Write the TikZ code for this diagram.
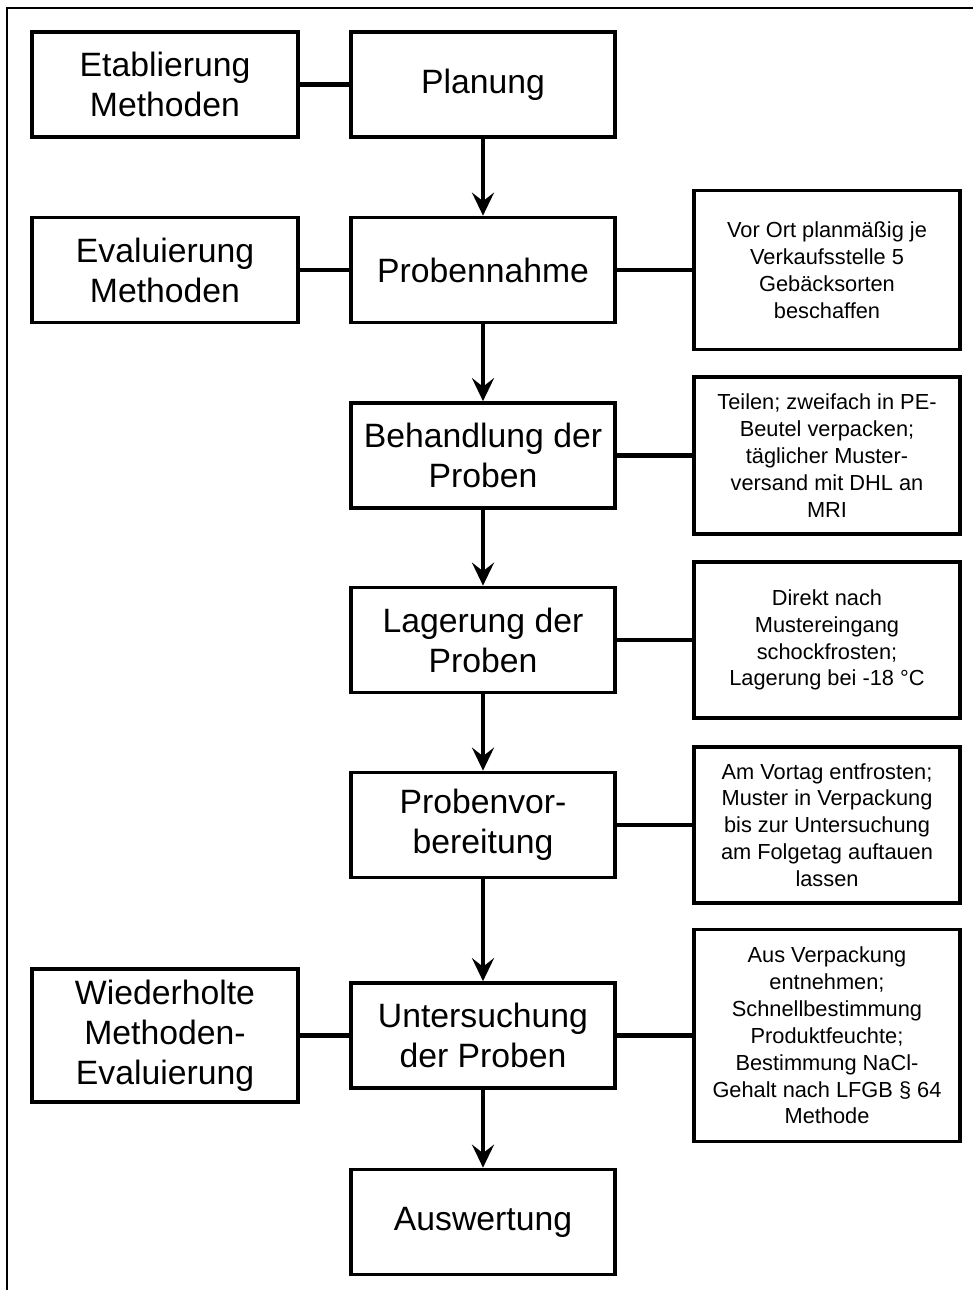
\documentclass[tikz,border=0pt]{standalone}
\usepackage{fontspec}
\setmainfont{Liberation Sans}
\usetikzlibrary{arrows.meta, positioning}

\begin{document}
\begin{tikzpicture}[
    % ---------------------------------------------------------
    % STILE
    % ---------------------------------------------------------
    schritt/.style={
        rectangle,
        draw=black,
        line width=2.1pt,
        minimum width=5.28cm,
        minimum height=2.1cm,
        inner sep=2pt,
        align=center,
        font=\fontsize{19.2}{22.8}\selectfont
    },
    methode/.style={
        schritt,
        minimum width=5.32cm
    },
    notiz/.style={
        rectangle,
        draw=black,
        line width=2.1pt,
        minimum width=5.32cm,
        minimum height=#1,
        inner sep=2pt,
        align=center,
        font=\fontsize{12.4}{15.3}\selectfont
    },
    pfeil/.style={
        draw=black,
        line width=2.4pt,
        -{Stealth[length=0.46cm, width=0.44cm, inset=0.17cm]}
    },
    verbindung/.style={
        draw=black,
        line width=2.8pt
    }
]
\useasboundingbox (0,0) rectangle (19.46,-25.8);

% Rahmen (nur oben und links sichtbar)
\draw[line width=1.2pt] (0.14,-25.8) -- (0.14,-0.16) -- (19.46,-0.16);

% ---------------------------------------------------------
% 1. ABLAUF (Mitte)
% ---------------------------------------------------------
\node[schritt] (planung)      at (9.66, -1.69)  {Planung};
\node[schritt] (probennahme)  at (9.66, -5.40)  {Probennahme};
\node[schritt] (behandlung)   at (9.66, -9.11)  {Behandlung der\\Proben};
\node[schritt] (lagerung)     at (9.66, -12.80) {Lagerung der\\Proben};
\node[schritt] (vorbereitung) at (9.66, -16.50) {Probenvor-\\bereitung};
\node[schritt] (untersuchung) at (9.66, -20.71) {Untersuchung\\der Proben};
\node[schritt] (auswertung)   at (9.66, -24.44) {Auswertung};

% ---------------------------------------------------------
% 2. METHODEN (links)
% ---------------------------------------------------------
\node[methode] (etablierung) at (3.3, -1.69) {Etablierung\\Methoden};
\node[methode] (evaluierung) at (3.3, -5.40) {Evaluierung\\Methoden};
\node[methode, minimum height=2.66cm] (wiederholt) at (3.3, -20.71) {Wiederholte\\Methoden-\\Evaluierung};

% ---------------------------------------------------------
% 3. ERLÄUTERUNGEN (rechts)
% ---------------------------------------------------------
\node[notiz=3.18cm] (nProbennahme) at (16.54, -5.40)
    {Vor Ort planmäßig je\\Verkaufsstelle 5\\Gebäcksorten\\beschaffen};
\node[notiz=3.14cm] (nBehandlung) at (16.54, -9.11)
    {Teilen; zweifach in PE-\\Beutel verpacken;\\täglicher Muster-\\versand mit DHL an\\MRI};
\node[notiz=3.12cm] (nLagerung) at (16.54, -12.80)
    {Direkt nach\\Mustereingang\\schockfrosten;\\Lagerung bei -18 °C};
\node[notiz=3.12cm] (nVorbereitung) at (16.54, -16.50)
    {Am Vortag entfrosten;\\Muster in Verpackung\\bis zur Untersuchung\\am Folgetag auftauen\\lassen};
\node[notiz=4.24cm] (nUntersuchung) at (16.54, -20.71)
    {Aus Verpackung\\entnehmen;\\Schnellbestimmung\\Produktfeuchte;\\Bestimmung NaCl-\\Gehalt nach LFGB § 64\\Methode};

% ---------------------------------------------------------
% 4. PFEILE UND VERBINDUNGEN
% ---------------------------------------------------------
\draw[pfeil] (planung) -- (probennahme);
\draw[pfeil] (probennahme) -- (behandlung);
\draw[pfeil] (behandlung) -- (lagerung);
\draw[pfeil] (lagerung) -- (vorbereitung);
\draw[pfeil] (vorbereitung) -- (untersuchung);
\draw[pfeil] (untersuchung) -- (auswertung);

\draw[verbindung] (etablierung) -- (planung);
\draw[verbindung] (evaluierung) -- (probennahme);
\draw[verbindung] (wiederholt) -- (untersuchung);

\draw[verbindung] (probennahme) -- (nProbennahme);
\draw[verbindung] (behandlung) -- (nBehandlung);
\draw[verbindung] (lagerung) -- (nLagerung);
\draw[verbindung] (vorbereitung) -- (nVorbereitung);
\draw[verbindung] (untersuchung) -- (nUntersuchung);

\end{tikzpicture}
\end{document}
